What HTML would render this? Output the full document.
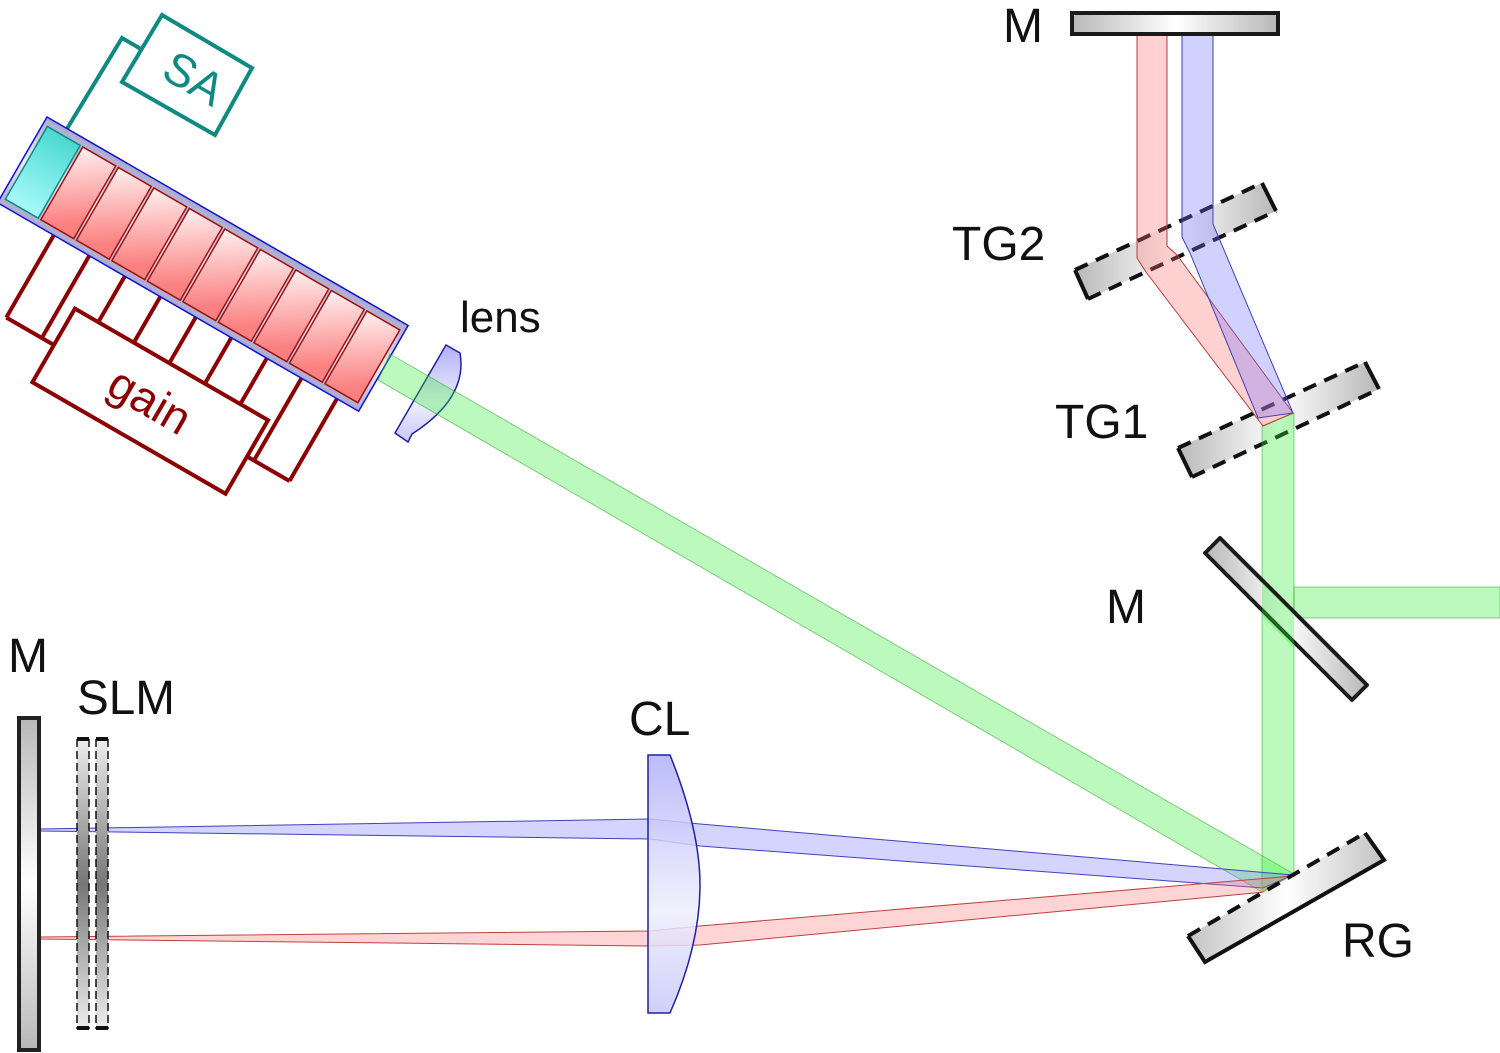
<!DOCTYPE html>
<html><head><meta charset="utf-8"><style>
html,body{margin:0;padding:0;background:#fff;}
svg{display:block;}
text{font-family:"Liberation Sans","DejaVu Sans",sans-serif;}
</style></head><body>
<svg width="1500" height="1053" viewBox="0 0 1500 1053" xmlns="http://www.w3.org/2000/svg">
<defs>
<linearGradient id="gh" x1="0" y1="0" x2="1" y2="0"><stop offset="0" stop-color="#b8b8b8"/><stop offset="0.5" stop-color="#fff"/><stop offset="1" stop-color="#b8b8b8"/></linearGradient>
<linearGradient id="gv" x1="0" y1="0" x2="0" y2="1"><stop offset="0" stop-color="#b8b8b8"/><stop offset="0.5" stop-color="#fff"/><stop offset="1" stop-color="#b8b8b8"/></linearGradient>
<linearGradient id="gslm" x1="0" y1="0" x2="0" y2="1"><stop offset="0" stop-color="#eee"/><stop offset="0.5" stop-color="#777"/><stop offset="1" stop-color="#eee"/></linearGradient>
<linearGradient id="gred" x1="0" y1="0" x2="0.3" y2="1"><stop offset="0" stop-color="#fff0f0"/><stop offset="1" stop-color="#fb8080"/></linearGradient>
<linearGradient id="gcy" x1="0" y1="0" x2="0" y2="1"><stop offset="0" stop-color="#4ad8d0"/><stop offset="1" stop-color="#a8fafa"/></linearGradient>
<linearGradient id="gchip" x1="0" y1="0" x2="0" y2="1"><stop offset="0" stop-color="#aaaad0"/><stop offset="0.5" stop-color="#eeeef8"/><stop offset="1" stop-color="#aaaad0"/></linearGradient>
<linearGradient id="glens" x1="0" y1="0" x2="0" y2="1"><stop offset="0" stop-color="#b0b0f8"/><stop offset="0.6" stop-color="#eeeefe"/><stop offset="1" stop-color="#c8c8f8"/></linearGradient>
</defs>

<!-- SA -->
<g stroke="#0f8a82" stroke-width="4" fill="none">
<polygon points="162,15 252,68 215,135 122,82"/>
<polyline points="65,132 122,38 141,49"/>
</g>
<text x="0" y="0" font-size="46" fill="#0f8a82" transform="translate(186,92) rotate(30)" text-anchor="middle">SA</text>

<!-- laser chip -->
<g transform="translate(47,117) rotate(30)">
<g stroke="#8b0000" stroke-width="4" fill="none">
<rect x="120" y="152" width="223" height="85" fill="#fff"/>
<line x1="65" y1="92" x2="65" y2="194"/>
<line x1="106" y1="92" x2="106" y2="194"/>
<line x1="65" y1="194" x2="120" y2="194"/>
<line x1="147" y1="92" x2="147" y2="152"/>
<line x1="188" y1="92" x2="188" y2="152"/>
<line x1="229" y1="92" x2="229" y2="152"/>
<line x1="270" y1="92" x2="270" y2="152"/>
<line x1="311" y1="92" x2="311" y2="152"/>
<line x1="351" y1="92" x2="351" y2="194"/>
<line x1="392" y1="92" x2="392" y2="194"/>
<line x1="343" y1="194" x2="392" y2="194"/>
</g>
<text x="231" y="210" font-size="46" fill="#8b0000" text-anchor="middle">gain</text>
<rect x="0" y="0" width="417" height="99" fill="url(#gchip)" stroke="#1010d0" stroke-width="1.5"/>
<rect x="5" y="8" width="38" height="84" fill="url(#gcy)" stroke="#0f8a82" stroke-width="1.5"/>
<g fill="url(#gred)" stroke="#a01010" stroke-width="1.5">
<rect x="46" y="8" width="38" height="84"/><rect x="87" y="8" width="38" height="84"/><rect x="128" y="8" width="38" height="84"/>
<rect x="169" y="8" width="38" height="84"/><rect x="210" y="8" width="38" height="84"/><rect x="251" y="8" width="38" height="84"/>
<rect x="292" y="8" width="38" height="84"/><rect x="333" y="8" width="38" height="84"/><rect x="374" y="8" width="38" height="84"/>
</g>
</g>

<!-- lens -->
<path d="M446,345 L460,353 Q468,398 412,434 L408,442 L395,433 Z" fill="url(#glens)" stroke="#2020a0" stroke-width="1.5"/>

<!-- TG2 -->
<polygon points="1075,270 1262,183 1276,211 1088,299" fill="url(#gh)"/>
<g stroke="#111" stroke-width="4" fill="none">
<line x1="1075" y1="270" x2="1262" y2="183" stroke-dasharray="14,9"/>
<line x1="1088" y1="299" x2="1276" y2="211" stroke-dasharray="14,9"/>
<line x1="1262" y1="183" x2="1276" y2="211"/>
<line x1="1075" y1="270" x2="1088" y2="299"/>
</g>
<!-- TG1 -->
<polygon points="1178,448 1365,362 1379,389 1192,477" fill="url(#gh)"/>
<g stroke="#111" stroke-width="4" fill="none">
<line x1="1178" y1="448" x2="1365" y2="362" stroke-dasharray="14,9"/>
<line x1="1192" y1="477" x2="1379" y2="389" stroke-dasharray="14,9"/>
<line x1="1365" y1="362" x2="1379" y2="389"/>
<line x1="1178" y1="448" x2="1192" y2="477"/>
</g>

<!-- green beams -->
<g fill="#33ee33" fill-opacity="0.33" stroke="#20a020" stroke-opacity="0.5" stroke-width="1">
<polygon points="390,354 1294,874 1262,892 378,380"/>
<polygon points="1262,426 1294,413 1294,874 1262,892"/>
<polygon points="1294,587 1500,587 1500,618 1294,618"/>
</g>

<!-- M diagonal -->
<polygon points="1220,538 1367,685 1352,700 1205,553" fill="url(#gh)" stroke="#1a1a1a" stroke-width="4" stroke-linejoin="round"/>
<polygon points="1262,582 1294,614 1294,648 1262,616" fill="#33ee33" fill-opacity="0.33"/>

<!-- top beams -->
<g fill-opacity="0.32" stroke-width="1">
<polygon points="1137,34 1167,34 1167,246 1177,255 1293,413 1263,426 1146,272 1137,258" fill="#ff7070" stroke="#b04040"/>
<polygon points="1182,34 1213,34 1213,224 1293,413 1258,418 1190,253 1182,237" fill="#7070ff" stroke="#4040b0"/>
</g>

<!-- top mirror -->
<rect x="1072" y="13" width="206" height="21" fill="url(#gh)" stroke="#1a1a1a" stroke-width="4"/>

<!-- lower beams -->
<g fill-opacity="0.3" stroke-width="1">
<polygon points="40,829 650,819 700,824 1293,875 1263,888 700,846 650,839 40,831" fill="#7070ff" stroke="#4040c0"/>
<polygon points="40,937 650,931 700,926 1293,876 1265,892 700,945 650,946 40,939" fill="#ff7070" stroke="#c04040"/>
</g>

<!-- RG -->
<polygon points="1188,936 1365,833 1384,860 1205,962" fill="url(#gh)" fill-opacity="0.85"/>
<g stroke="#111" stroke-width="4" fill="none">
<line x1="1188" y1="936" x2="1365" y2="833" stroke-dasharray="14,9"/>
<polyline points="1365,833 1384,860 1205,962 1188,936"/>
</g>

<!-- CL -->
<path d="M648,755 L670,755 Q700,830 700,885 Q700,945 670,1013 L648,1013 Z" fill="url(#glens)" fill-opacity="0.85" stroke="#2020a0" stroke-width="1.5"/>

<!-- left mirror -->
<rect x="19" y="718" width="20" height="332" fill="url(#gv)" stroke="#222" stroke-width="4"/>
<!-- SLM -->
<g>
<rect x="77" y="739" width="12" height="290" fill="url(#gslm)"/>
<rect x="96" y="739" width="12" height="290" fill="url(#gslm)"/>
<g stroke="#111" stroke-width="1.5" stroke-dasharray="8,4" fill="none">
<line x1="77" y1="739" x2="77" y2="1029"/><line x1="89" y1="739" x2="89" y2="1029"/>
<line x1="96" y1="739" x2="96" y2="1029"/><line x1="108" y1="739" x2="108" y2="1029"/>
</g>
<g stroke="#111" stroke-width="4">
<line x1="77" y1="739" x2="89" y2="739"/><line x1="96" y1="739" x2="108" y2="739"/>
<line x1="77" y1="1028" x2="89" y2="1028"/><line x1="96" y1="1028" x2="108" y2="1028"/>
</g>
</g>

<!-- labels -->
<g font-size="48" fill="#111">
<text x="1003" y="42" textLength="40" lengthAdjust="spacingAndGlyphs">M</text>
<text x="952" y="260">TG2</text>
<text x="1055" y="438">TG1</text>
<text x="1106" y="623" textLength="40" lengthAdjust="spacingAndGlyphs">M</text>
<text x="629" y="735">CL</text>
<text x="1342" y="957">RG</text>
<text x="8" y="672" textLength="40" lengthAdjust="spacingAndGlyphs">M</text>
<text x="77" y="714" textLength="98" lengthAdjust="spacingAndGlyphs">SLM</text>
<text x="460" y="332" font-size="44">lens</text>
</g>
</svg>
</body></html>
